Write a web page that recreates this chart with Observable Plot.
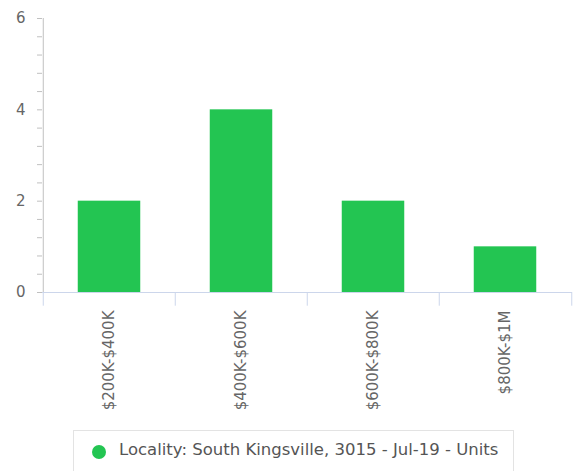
<!DOCTYPE html>
<html><head><meta charset="utf-8">
<script src="https://cdn.jsdelivr.net/npm/d3@7"></script>
<script src="https://cdn.jsdelivr.net/npm/@observablehq/plot@0.6"></script>
<style>
body{margin:0;background:#fff;font-family:"DejaVu Sans",sans-serif;}
#legend{position:absolute;left:73px;top:430px;width:441px;height:44px;border:1px solid #e3e3e3;box-sizing:border-box;font-size:16.5px;color:#555;}
#legend .dot{position:absolute;left:18px;top:14px;width:14px;height:14px;border-radius:50%;background:#23c552;}
#legend .txt{position:absolute;left:45px;top:9px;white-space:nowrap;}
</style></head>
<body>
<div id="chart"></div>
<div id="legend"><span class="dot"></span><span class="txt"></span></div>
<script>
const categories = ["$200K-$400K","$400K-$600K","$600K-$800K","$800K-$1M"];
const values = [2, 4, 2, 1];
const majorTicks = [0, 2, 4, 6];
const minorTicks = [0.4,0.8,1.2,1.6,2.4,2.8,3.2,3.6,4.4,4.8,5.2,5.6];
const seriesName = "Locality: South Kingsville, 3015 - Jul-19 - Units";
const data = categories.map((c, i) => ({cat: c, v: values[i]}));

const W = 577, H = 425, mL = 42, mR = 5;
const bw = (W - mL - mR) / categories.length;
const inset = (bw - 63) / 2;

const chart = Plot.plot({
  width: W, height: H,
  marginTop: 18, marginBottom: H - 292, marginLeft: mL, marginRight: mR,
  style: {fontFamily: "DejaVu Sans, sans-serif", color: "#666", background: "#fff"},
  x: {domain: categories, padding: 0, label: null},
  y: {domain: [0, 6], label: null},
  marks: [
    Plot.barY(data, {x: "cat", y: "v", fill: "#23c552", insetLeft: inset, insetRight: inset}),
    Plot.ruleY([0], {stroke: "#ccd6eb", insetLeft: -4}),
    Plot.ruleX(categories, {dx: -bw / 2, y1: 0, y2: -0.3, stroke: "#ccd6eb"}),
    Plot.ruleX([categories[categories.length - 1]], {dx: bw / 2, y1: 0, y2: -0.3, stroke: "#ccd6eb"}),
    Plot.ruleX([categories[0]], {dx: -bw / 2, y1: 0, y2: 6, stroke: "#c0c0c0"}),
    Plot.axisY({ticks: minorTicks.concat(majorTicks), tickSize: 5, text: null, stroke: "#c0c0c0"}),
    Plot.axisY({ticks: majorTicks, tickSize: 0, tickPadding: 17, fontSize: 15, fill: "#666", tickFormat: d => String(d), label: null}),
    Plot.axisX({tickSize: 0, tickRotate: -90, tickPadding: 18, fontSize: 15, fill: "#666", label: null})
  ]
});
document.getElementById("chart").appendChild(chart);
document.querySelector("#legend .txt").textContent = seriesName;
</script>
</body></html>
